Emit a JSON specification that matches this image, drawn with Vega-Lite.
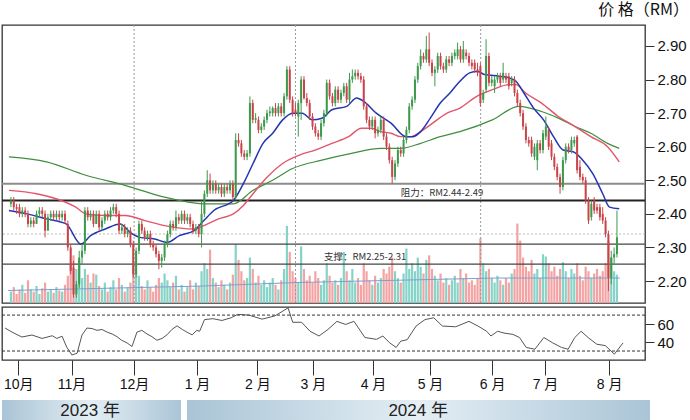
{
"$schema":"https://vega.github.io/schema/vega-lite/v6.json",
"background":"white",
"padding":{"left":0,"top":0,"right":1,"bottom":0},
"autosize":{"type":"pad"},
"config":{"view":{"stroke":"#333","strokeWidth":1.3},"axis":{"grid":false,"domain":false,"labelFont":"Liberation Sans, Noto Sans CJK SC","labelColor":"#111","tickColor":"#333","title":null},"title":{"font":"Noto Sans CJK SC","fontWeight":"normal","color":"#111"}},
"datasets":{
"bars":[
{"i":0,"o":2.43,"h":2.45,"l":2.42,"c":2.44,"v":1.0},
{"i":1,"o":2.44,"h":2.45,"l":2.41,"c":2.42,"v":1.4},
{"i":2,"o":2.42,"h":2.43,"l":2.40,"c":2.415,"v":0.8},
{"i":3,"o":2.42,"h":2.43,"l":2.39,"c":2.40,"v":1.2},
{"i":4,"o":2.40,"h":2.42,"l":2.39,"c":2.41,"v":1.6},
{"i":5,"o":2.41,"h":2.42,"l":2.39,"c":2.40,"v":0.9},
{"i":6,"o":2.40,"h":2.41,"l":2.36,"c":2.37,"v":2.0},
{"i":7,"o":2.37,"h":2.39,"l":2.36,"c":2.38,"v":1.2},
{"i":8,"o":2.38,"h":2.39,"l":2.36,"c":2.37,"v":1.0},
{"i":9,"o":2.37,"h":2.41,"l":2.37,"c":2.40,"v":1.5},
{"i":10,"o":2.40,"h":2.42,"l":2.39,"c":2.41,"v":0.8},
{"i":11,"o":2.41,"h":2.42,"l":2.39,"c":2.40,"v":1.3},
{"i":12,"o":2.40,"h":2.41,"l":2.33,"c":2.35,"v":1.8},
{"i":13,"o":2.35,"h":2.40,"l":2.35,"c":2.39,"v":1.0},
{"i":14,"o":2.39,"h":2.41,"l":2.38,"c":2.40,"v":1.2},
{"i":15,"o":2.40,"h":2.41,"l":2.38,"c":2.39,"v":0.9},
{"i":16,"o":2.39,"h":2.41,"l":2.38,"c":2.40,"v":1.4},
{"i":17,"o":2.40,"h":2.41,"l":2.38,"c":2.39,"v":1.1},
{"i":18,"o":2.39,"h":2.41,"l":2.38,"c":2.40,"v":1.0},
{"i":19,"o":2.40,"h":2.41,"l":2.37,"c":2.38,"v":1.6},
{"i":20,"o":2.37,"h":2.38,"l":2.29,"c":2.30,"v":2.4},
{"i":21,"o":2.30,"h":2.31,"l":2.22,"c":2.23,"v":3.5},
{"i":22,"o":2.24,"h":2.26,"l":2.15,"c":2.16,"v":4.2},
{"i":23,"o":2.16,"h":2.20,"l":2.15,"c":2.19,"v":3.0},
{"i":24,"o":2.19,"h":2.29,"l":2.18,"c":2.27,"v":3.8},
{"i":25,"o":2.27,"h":2.31,"l":2.25,"c":2.29,"v":2.2},
{"i":26,"o":2.29,"h":2.42,"l":2.28,"c":2.41,"v":3.0},
{"i":27,"o":2.41,"h":2.42,"l":2.38,"c":2.39,"v":2.5},
{"i":28,"o":2.39,"h":2.41,"l":2.38,"c":2.40,"v":1.8},
{"i":29,"o":2.40,"h":2.41,"l":2.36,"c":2.37,"v":2.6},
{"i":30,"o":2.37,"h":2.41,"l":2.37,"c":2.40,"v":2.5},
{"i":31,"o":2.40,"h":2.41,"l":2.35,"c":2.36,"v":1.5},
{"i":32,"o":2.36,"h":2.39,"l":2.35,"c":2.38,"v":1.2},
{"i":33,"o":2.38,"h":2.41,"l":2.37,"c":2.40,"v":1.8},
{"i":34,"o":2.40,"h":2.41,"l":2.38,"c":2.39,"v":1.0},
{"i":35,"o":2.39,"h":2.42,"l":2.38,"c":2.41,"v":1.4},
{"i":36,"o":2.41,"h":2.43,"l":2.40,"c":2.42,"v":2.0},
{"i":37,"o":2.42,"h":2.43,"l":2.39,"c":2.40,"v":1.2},
{"i":38,"o":2.40,"h":2.41,"l":2.34,"c":2.35,"v":2.2},
{"i":39,"o":2.35,"h":2.37,"l":2.34,"c":2.36,"v":1.6},
{"i":40,"o":2.36,"h":2.37,"l":2.33,"c":2.34,"v":1.0},
{"i":41,"o":2.34,"h":2.36,"l":2.33,"c":2.35,"v":1.4},
{"i":42,"o":2.35,"h":2.36,"l":2.30,"c":2.31,"v":1.8},
{"i":43,"o":2.31,"h":2.32,"l":2.21,"c":2.22,"v":3.3},
{"i":44,"o":2.22,"h":2.30,"l":2.21,"c":2.29,"v":2.8},
{"i":45,"o":2.29,"h":2.38,"l":2.28,"c":2.37,"v":2.4},
{"i":46,"o":2.37,"h":2.38,"l":2.34,"c":2.35,"v":1.5},
{"i":47,"o":2.35,"h":2.36,"l":2.32,"c":2.33,"v":1.2},
{"i":48,"o":2.33,"h":2.35,"l":2.32,"c":2.34,"v":2.0},
{"i":49,"o":2.34,"h":2.35,"l":2.30,"c":2.31,"v":1.4},
{"i":50,"o":2.31,"h":2.32,"l":2.29,"c":2.30,"v":1.0},
{"i":51,"o":2.30,"h":2.31,"l":2.27,"c":2.28,"v":1.6},
{"i":52,"o":2.28,"h":2.29,"l":2.235,"c":2.26,"v":2.2},
{"i":53,"o":2.26,"h":2.28,"l":2.24,"c":2.27,"v":1.8},
{"i":54,"o":2.27,"h":2.32,"l":2.26,"c":2.31,"v":2.6},
{"i":55,"o":2.31,"h":2.35,"l":2.30,"c":2.34,"v":2.0},
{"i":56,"o":2.34,"h":2.38,"l":2.33,"c":2.37,"v":1.4},
{"i":57,"o":2.37,"h":2.38,"l":2.35,"c":2.36,"v":1.8},
{"i":58,"o":2.36,"h":2.41,"l":2.35,"c":2.39,"v":2.4},
{"i":59,"o":2.39,"h":2.40,"l":2.37,"c":2.38,"v":1.2},
{"i":60,"o":2.38,"h":2.41,"l":2.37,"c":2.40,"v":1.6},
{"i":61,"o":2.40,"h":2.41,"l":2.37,"c":2.38,"v":1.0},
{"i":62,"o":2.38,"h":2.40,"l":2.37,"c":2.39,"v":1.4},
{"i":63,"o":2.39,"h":2.40,"l":2.36,"c":2.37,"v":2.0},
{"i":64,"o":2.37,"h":2.38,"l":2.34,"c":2.35,"v":1.2},
{"i":65,"o":2.35,"h":2.37,"l":2.34,"c":2.36,"v":1.8},
{"i":66,"o":2.36,"h":2.37,"l":2.33,"c":2.34,"v":1.5},
{"i":67,"o":2.34,"h":2.44,"l":2.30,"c":2.40,"v":2.8},
{"i":68,"o":2.40,"h":2.47,"l":2.39,"c":2.46,"v":3.5},
{"i":69,"o":2.46,"h":2.53,"l":2.45,"c":2.50,"v":3.0},
{"i":70,"o":2.50,"h":2.52,"l":2.46,"c":2.47,"v":4.7},
{"i":71,"o":2.47,"h":2.50,"l":2.46,"c":2.49,"v":2.2},
{"i":72,"o":2.49,"h":2.50,"l":2.46,"c":2.47,"v":1.8},
{"i":73,"o":2.47,"h":2.49,"l":2.46,"c":2.48,"v":1.4},
{"i":74,"o":2.48,"h":2.49,"l":2.45,"c":2.46,"v":2.0},
{"i":75,"o":2.46,"h":2.49,"l":2.45,"c":2.48,"v":1.6},
{"i":76,"o":2.48,"h":2.49,"l":2.46,"c":2.47,"v":1.2},
{"i":77,"o":2.47,"h":2.50,"l":2.46,"c":2.49,"v":1.8},
{"i":78,"o":2.49,"h":2.50,"l":2.44,"c":2.45,"v":2.5},
{"i":79,"o":2.45,"h":2.64,"l":2.44,"c":2.62,"v":5.2},
{"i":80,"o":2.62,"h":2.64,"l":2.60,"c":2.61,"v":3.8},
{"i":81,"o":2.61,"h":2.62,"l":2.57,"c":2.58,"v":2.8},
{"i":82,"o":2.58,"h":2.59,"l":2.56,"c":2.57,"v":2.0},
{"i":83,"o":2.57,"h":2.59,"l":2.56,"c":2.58,"v":2.2},
{"i":84,"o":2.58,"h":2.75,"l":2.57,"c":2.73,"v":4.0},
{"i":85,"o":2.73,"h":2.74,"l":2.67,"c":2.68,"v":3.0},
{"i":86,"o":2.68,"h":2.70,"l":2.67,"c":2.685,"v":1.8},
{"i":87,"o":2.68,"h":2.69,"l":2.64,"c":2.65,"v":2.4},
{"i":88,"o":2.65,"h":2.67,"l":2.64,"c":2.66,"v":1.6},
{"i":89,"o":2.66,"h":2.69,"l":2.65,"c":2.68,"v":2.0},
{"i":90,"o":2.68,"h":2.71,"l":2.67,"c":2.70,"v":1.4},
{"i":91,"o":2.70,"h":2.72,"l":2.69,"c":2.705,"v":1.8},
{"i":92,"o":2.70,"h":2.72,"l":2.69,"c":2.715,"v":2.2},
{"i":93,"o":2.715,"h":2.73,"l":2.69,"c":2.70,"v":1.6},
{"i":94,"o":2.70,"h":2.73,"l":2.69,"c":2.72,"v":1.2},
{"i":95,"o":2.72,"h":2.73,"l":2.69,"c":2.70,"v":2.0},
{"i":96,"o":2.70,"h":2.76,"l":2.69,"c":2.75,"v":3.0},
{"i":97,"o":2.75,"h":2.84,"l":2.74,"c":2.83,"v":6.8},
{"i":98,"o":2.83,"h":2.84,"l":2.73,"c":2.74,"v":4.5},
{"i":99,"o":2.74,"h":2.75,"l":2.69,"c":2.70,"v":2.8},
{"i":100,"o":2.71,"h":2.73,"l":2.69,"c":2.70,"v":2.2},
{"i":101,"o":2.69,"h":2.74,"l":2.63,"c":2.73,"v":1.8},
{"i":102,"o":2.73,"h":2.81,"l":2.68,"c":2.80,"v":5.0},
{"i":103,"o":2.80,"h":2.81,"l":2.74,"c":2.745,"v":3.0},
{"i":104,"o":2.745,"h":2.76,"l":2.72,"c":2.73,"v":2.0},
{"i":105,"o":2.73,"h":2.74,"l":2.68,"c":2.69,"v":2.4},
{"i":106,"o":2.69,"h":2.70,"l":2.65,"c":2.66,"v":1.8},
{"i":107,"o":2.66,"h":2.67,"l":2.63,"c":2.64,"v":2.8},
{"i":108,"o":2.64,"h":2.65,"l":2.62,"c":2.63,"v":2.2},
{"i":109,"o":2.63,"h":2.68,"l":2.62,"c":2.67,"v":1.6},
{"i":110,"o":2.67,"h":2.71,"l":2.66,"c":2.70,"v":2.0},
{"i":111,"o":2.70,"h":2.80,"l":2.69,"c":2.79,"v":3.5},
{"i":112,"o":2.79,"h":2.80,"l":2.74,"c":2.75,"v":2.4},
{"i":113,"o":2.75,"h":2.76,"l":2.72,"c":2.73,"v":1.8},
{"i":114,"o":2.73,"h":2.78,"l":2.72,"c":2.77,"v":2.0},
{"i":115,"o":2.77,"h":2.78,"l":2.73,"c":2.74,"v":1.6},
{"i":116,"o":2.74,"h":2.77,"l":2.73,"c":2.76,"v":2.2},
{"i":117,"o":2.76,"h":2.79,"l":2.75,"c":2.78,"v":4.5},
{"i":118,"o":2.78,"h":2.79,"l":2.73,"c":2.74,"v":2.8},
{"i":119,"o":2.74,"h":2.82,"l":2.73,"c":2.80,"v":2.0},
{"i":120,"o":2.80,"h":2.83,"l":2.79,"c":2.81,"v":3.0},
{"i":121,"o":2.81,"h":2.83,"l":2.80,"c":2.82,"v":1.8},
{"i":122,"o":2.82,"h":2.83,"l":2.80,"c":2.81,"v":2.2},
{"i":123,"o":2.81,"h":2.82,"l":2.79,"c":2.80,"v":1.6},
{"i":124,"o":2.80,"h":2.81,"l":2.71,"c":2.72,"v":3.5},
{"i":125,"o":2.72,"h":2.73,"l":2.67,"c":2.68,"v":2.8},
{"i":126,"o":2.68,"h":2.69,"l":2.65,"c":2.66,"v":2.0},
{"i":127,"o":2.66,"h":2.69,"l":2.65,"c":2.68,"v":1.6},
{"i":128,"o":2.68,"h":2.69,"l":2.625,"c":2.64,"v":2.4},
{"i":129,"o":2.64,"h":2.66,"l":2.63,"c":2.65,"v":1.8},
{"i":130,"o":2.65,"h":2.69,"l":2.64,"c":2.68,"v":2.2},
{"i":131,"o":2.68,"h":2.69,"l":2.62,"c":2.63,"v":3.0},
{"i":132,"o":2.63,"h":2.64,"l":2.59,"c":2.60,"v":2.6},
{"i":133,"o":2.60,"h":2.61,"l":2.55,"c":2.56,"v":3.2},
{"i":134,"o":2.56,"h":2.57,"l":2.49,"c":2.51,"v":4.0},
{"i":135,"o":2.51,"h":2.56,"l":2.50,"c":2.55,"v":2.8},
{"i":136,"o":2.55,"h":2.60,"l":2.54,"c":2.59,"v":2.2},
{"i":137,"o":2.59,"h":2.60,"l":2.57,"c":2.58,"v":1.8},
{"i":138,"o":2.58,"h":2.63,"l":2.57,"c":2.62,"v":2.6},
{"i":139,"o":2.62,"h":2.66,"l":2.61,"c":2.65,"v":4.8},
{"i":140,"o":2.65,"h":2.73,"l":2.64,"c":2.72,"v":3.0},
{"i":141,"o":2.72,"h":2.75,"l":2.71,"c":2.74,"v":3.5},
{"i":142,"o":2.74,"h":2.81,"l":2.73,"c":2.80,"v":2.8},
{"i":143,"o":2.80,"h":2.85,"l":2.79,"c":2.84,"v":4.0},
{"i":144,"o":2.84,"h":2.89,"l":2.83,"c":2.87,"v":3.2},
{"i":145,"o":2.87,"h":2.88,"l":2.85,"c":2.86,"v":2.6},
{"i":146,"o":2.86,"h":2.93,"l":2.85,"c":2.89,"v":3.8},
{"i":147,"o":2.89,"h":2.94,"l":2.84,"c":2.85,"v":4.2},
{"i":148,"o":2.85,"h":2.86,"l":2.81,"c":2.82,"v":3.0},
{"i":149,"o":2.82,"h":2.84,"l":2.78,"c":2.83,"v":2.4},
{"i":150,"o":2.83,"h":2.88,"l":2.82,"c":2.87,"v":2.0},
{"i":151,"o":2.87,"h":2.88,"l":2.83,"c":2.84,"v":2.6},
{"i":152,"o":2.84,"h":2.85,"l":2.82,"c":2.83,"v":1.8},
{"i":153,"o":2.83,"h":2.87,"l":2.82,"c":2.86,"v":2.2},
{"i":154,"o":2.86,"h":2.87,"l":2.84,"c":2.85,"v":1.6},
{"i":155,"o":2.85,"h":2.88,"l":2.84,"c":2.87,"v":2.0},
{"i":156,"o":2.87,"h":2.89,"l":2.86,"c":2.88,"v":2.4},
{"i":157,"o":2.87,"h":2.91,"l":2.86,"c":2.89,"v":1.8},
{"i":158,"o":2.89,"h":2.90,"l":2.85,"c":2.86,"v":3.0},
{"i":159,"o":2.86,"h":2.915,"l":2.85,"c":2.89,"v":2.2},
{"i":160,"o":2.88,"h":2.89,"l":2.86,"c":2.87,"v":2.6},
{"i":161,"o":2.87,"h":2.88,"l":2.84,"c":2.85,"v":1.8},
{"i":162,"o":2.85,"h":2.86,"l":2.83,"c":2.84,"v":2.0},
{"i":163,"o":2.85,"h":2.86,"l":2.82,"c":2.83,"v":1.6},
{"i":164,"o":2.83,"h":2.85,"l":2.81,"c":2.82,"v":2.2},
{"i":165,"o":2.84,"h":2.85,"l":2.72,"c":2.73,"v":5.7},
{"i":166,"o":2.74,"h":2.77,"l":2.73,"c":2.76,"v":3.5},
{"i":167,"o":2.77,"h":2.92,"l":2.76,"c":2.87,"v":2.8},
{"i":168,"o":2.87,"h":2.88,"l":2.78,"c":2.79,"v":3.0},
{"i":169,"o":2.79,"h":2.81,"l":2.78,"c":2.80,"v":2.2},
{"i":170,"o":2.78,"h":2.81,"l":2.76,"c":2.80,"v":1.8},
{"i":171,"o":2.80,"h":2.82,"l":2.79,"c":2.81,"v":2.4},
{"i":172,"o":2.81,"h":2.82,"l":2.78,"c":2.79,"v":2.0},
{"i":173,"o":2.80,"h":2.85,"l":2.79,"c":2.82,"v":1.6},
{"i":174,"o":2.81,"h":2.82,"l":2.79,"c":2.80,"v":2.2},
{"i":175,"o":2.81,"h":2.82,"l":2.77,"c":2.78,"v":1.8},
{"i":176,"o":2.79,"h":2.81,"l":2.78,"c":2.80,"v":2.6},
{"i":177,"o":2.80,"h":2.81,"l":2.75,"c":2.76,"v":3.0},
{"i":178,"o":2.76,"h":2.77,"l":2.72,"c":2.73,"v":7.0},
{"i":179,"o":2.73,"h":2.74,"l":2.69,"c":2.70,"v":5.5},
{"i":180,"o":2.70,"h":2.71,"l":2.65,"c":2.66,"v":4.0},
{"i":181,"o":2.66,"h":2.67,"l":2.61,"c":2.62,"v":3.2},
{"i":182,"o":2.62,"h":2.63,"l":2.60,"c":2.61,"v":2.8},
{"i":183,"o":2.62,"h":2.63,"l":2.57,"c":2.58,"v":3.8},
{"i":184,"o":2.57,"h":2.61,"l":2.56,"c":2.60,"v":2.6},
{"i":185,"o":2.56,"h":2.62,"l":2.53,"c":2.61,"v":3.0},
{"i":186,"o":2.61,"h":2.62,"l":2.58,"c":2.59,"v":2.2},
{"i":187,"o":2.59,"h":2.65,"l":2.58,"c":2.64,"v":4.3},
{"i":188,"o":2.63,"h":2.69,"l":2.62,"c":2.66,"v":4.1},
{"i":189,"o":2.65,"h":2.66,"l":2.59,"c":2.60,"v":3.5},
{"i":190,"o":2.61,"h":2.62,"l":2.56,"c":2.57,"v":2.8},
{"i":191,"o":2.57,"h":2.58,"l":2.53,"c":2.54,"v":3.2},
{"i":192,"o":2.54,"h":2.55,"l":2.50,"c":2.51,"v":2.4},
{"i":193,"o":2.51,"h":2.52,"l":2.46,"c":2.48,"v":3.0},
{"i":194,"o":2.48,"h":2.57,"l":2.47,"c":2.56,"v":3.6},
{"i":195,"o":2.56,"h":2.61,"l":2.55,"c":2.60,"v":2.8},
{"i":196,"o":2.60,"h":2.61,"l":2.58,"c":2.59,"v":2.2},
{"i":197,"o":2.59,"h":2.63,"l":2.58,"c":2.62,"v":3.0},
{"i":198,"o":2.61,"h":2.63,"l":2.60,"c":2.62,"v":2.6},
{"i":199,"o":2.63,"h":2.635,"l":2.52,"c":2.53,"v":3.5},
{"i":200,"o":2.54,"h":2.56,"l":2.50,"c":2.51,"v":2.4},
{"i":201,"o":2.51,"h":2.52,"l":2.49,"c":2.50,"v":2.0},
{"i":202,"o":2.50,"h":2.51,"l":2.43,"c":2.44,"v":3.2},
{"i":203,"o":2.44,"h":2.45,"l":2.37,"c":2.38,"v":2.8},
{"i":204,"o":2.39,"h":2.44,"l":2.38,"c":2.43,"v":2.2},
{"i":205,"o":2.44,"h":2.45,"l":2.40,"c":2.41,"v":2.6},
{"i":206,"o":2.42,"h":2.43,"l":2.40,"c":2.41,"v":3.0},
{"i":207,"o":2.42,"h":2.43,"l":2.38,"c":2.39,"v":2.4},
{"i":208,"o":2.40,"h":2.42,"l":2.37,"c":2.38,"v":2.8},
{"i":209,"o":2.38,"h":2.39,"l":2.33,"c":2.34,"v":3.5},
{"i":210,"o":2.34,"h":2.35,"l":2.17,"c":2.21,"v":5.5},
{"i":211,"o":2.21,"h":2.29,"l":2.19,"c":2.27,"v":4.0},
{"i":212,"o":2.27,"h":2.30,"l":2.25,"c":2.28,"v":2.8},
{"i":213,"o":2.28,"h":2.41,"l":2.27,"c":2.33,"v":2.5}
],
"ma_b":[
{"i":-0.7,"p":2.41},{"i":5.5,"p":2.40},{"i":12.5,"p":2.385},{"i":19.4,"p":2.37},{"i":24.6,"p":2.31},{"i":28,"p":2.335},{"i":33.2,"p":2.355},{"i":38.4,"p":2.37},{"i":41.9,"p":2.345},{"i":45.3,"p":2.33},{"i":50.5,"p":2.325},{"i":55,"p":2.315},{"i":59.2,"p":2.335},{"i":64.4,"p":2.35},{"i":67.8,"p":2.38},{"i":71.3,"p":2.41},{"i":78.2,"p":2.44},{"i":81.7,"p":2.49},{"i":85.1,"p":2.55},{"i":88.6,"p":2.61},{"i":92,"p":2.64},{"i":95.5,"p":2.68},{"i":99,"p":2.70},{"i":102.4,"p":2.70},{"i":105.9,"p":2.68},{"i":109.3,"p":2.685},{"i":112.8,"p":2.71},{"i":118,"p":2.72},{"i":121.5,"p":2.745},{"i":124,"p":2.735},{"i":128.4,"p":2.70},{"i":133.6,"p":2.67},{"i":138.8,"p":2.63},{"i":141.2,"p":2.63},{"i":144,"p":2.645},{"i":147.4,"p":2.685},{"i":150.9,"p":2.73},{"i":154.3,"p":2.76},{"i":157.8,"p":2.795},{"i":161.2,"p":2.82},{"i":164,"p":2.825},{"i":166.4,"p":2.815},{"i":171.6,"p":2.81},{"i":175.1,"p":2.805},{"i":177.5,"p":2.795},{"i":180.3,"p":2.76},{"i":183.7,"p":2.715},{"i":187.2,"p":2.68},{"i":190.7,"p":2.63},{"i":194.1,"p":2.59},{"i":197.6,"p":2.585},{"i":201,"p":2.56},{"i":204.5,"p":2.52},{"i":208,"p":2.46},{"i":210.4,"p":2.42},{"i":213.8,"p":2.415}
],
"ma_r":[
{"i":-0.7,"p":2.47},{"i":9,"p":2.46},{"i":15.9,"p":2.445},{"i":22.8,"p":2.42},{"i":26.3,"p":2.40},{"i":33.2,"p":2.395},{"i":40.1,"p":2.395},{"i":47.1,"p":2.38},{"i":54,"p":2.365},{"i":64.4,"p":2.355},{"i":67.8,"p":2.365},{"i":73,"p":2.385},{"i":78.2,"p":2.40},{"i":81.7,"p":2.425},{"i":85.1,"p":2.46},{"i":89.6,"p":2.505},{"i":95.5,"p":2.55},{"i":101.4,"p":2.575},{"i":106.9,"p":2.59},{"i":112.8,"p":2.61},{"i":118.7,"p":2.63},{"i":123.2,"p":2.655},{"i":126.6,"p":2.655},{"i":130.1,"p":2.645},{"i":133.6,"p":2.64},{"i":137,"p":2.63},{"i":140.5,"p":2.63},{"i":144,"p":2.645},{"i":147.4,"p":2.665},{"i":153.3,"p":2.70},{"i":157.8,"p":2.715},{"i":163.7,"p":2.75},{"i":169.2,"p":2.77},{"i":175.1,"p":2.785},{"i":177.5,"p":2.785},{"i":180.9,"p":2.76},{"i":186.5,"p":2.73},{"i":192.4,"p":2.69},{"i":198.3,"p":2.66},{"i":203.8,"p":2.63},{"i":209.7,"p":2.60},{"i":213.8,"p":2.555}
],
"ma_g":[
{"i":-0.7,"p":2.57},{"i":12.5,"p":2.555},{"i":26.3,"p":2.515},{"i":40.1,"p":2.485},{"i":54,"p":2.45},{"i":67.8,"p":2.43},{"i":78.2,"p":2.43},{"i":85.1,"p":2.47},{"i":92,"p":2.50},{"i":99,"p":2.535},{"i":109.3,"p":2.56},{"i":119.7,"p":2.58},{"i":130.1,"p":2.595},{"i":137,"p":2.595},{"i":144,"p":2.61},{"i":150.9,"p":2.63},{"i":157.8,"p":2.645},{"i":169.2,"p":2.68},{"i":178.5,"p":2.72},{"i":186.5,"p":2.705},{"i":192.4,"p":2.685},{"i":198.3,"p":2.66},{"i":203.8,"p":2.64},{"i":209.7,"p":2.61},{"i":213.8,"p":2.595}
],
"volma":[
{"i":-1,"v":1.1},{"i":34,"v":1.3},{"i":68,"v":1.5},{"i":100,"v":1.8},{"i":135,"v":2.0},{"i":170,"v":2.2},{"i":214,"v":2.2}
],
"rsi":[
{"i":-0.3,"r":55.6},{"i":2.1,"r":51},{"i":5.5,"r":45.6},{"i":9,"r":47.8},{"i":12.5,"r":44},{"i":16,"r":47},{"i":17.6,"r":44},{"i":19.4,"r":46.5},{"i":21,"r":34.4},{"i":22.8,"r":25.6},{"i":24.6,"r":27.5},{"i":26.3,"r":47.8},{"i":28,"r":55.6},{"i":29.8,"r":55},{"i":31.5,"r":53},{"i":33.2,"r":54},{"i":35,"r":51},{"i":36.7,"r":49},{"i":38.4,"r":46},{"i":40,"r":42},{"i":41.9,"r":39},{"i":43.6,"r":35},{"i":45.3,"r":51},{"i":47,"r":53},{"i":48.8,"r":49},{"i":50.5,"r":46},{"i":52.2,"r":42},{"i":54,"r":44},{"i":55.7,"r":48},{"i":57.4,"r":54},{"i":59.2,"r":58},{"i":61,"r":54},{"i":62.6,"r":51},{"i":64.4,"r":48},{"i":66,"r":53},{"i":67,"r":52},{"i":68.7,"r":65},{"i":71.6,"r":66},{"i":74.7,"r":64},{"i":77.9,"r":67},{"i":80.2,"r":70.8},{"i":84,"r":70},{"i":88.6,"r":65.5},{"i":93,"r":69},{"i":97.6,"r":78},{"i":99.2,"r":62},{"i":102.3,"r":62},{"i":105.2,"r":52},{"i":108.3,"r":46.7},{"i":111.4,"r":54},{"i":114.5,"r":63},{"i":117.5,"r":59.6},{"i":120.4,"r":63},{"i":124.2,"r":45},{"i":128.2,"r":43},{"i":130.4,"r":46.7},{"i":132.8,"r":39},{"i":135,"r":34},{"i":136.6,"r":41},{"i":138.8,"r":42.6},{"i":141.9,"r":57.8},{"i":145,"r":65},{"i":148,"r":67},{"i":151,"r":57.8},{"i":155.6,"r":57},{"i":160.2,"r":63},{"i":163.3,"r":57.8},{"i":166.3,"r":52},{"i":167.8,"r":46.7},{"i":170.1,"r":52},{"i":172.3,"r":50},{"i":175.4,"r":48.5},{"i":177.7,"r":45},{"i":180,"r":34},{"i":183,"r":32},{"i":186.1,"r":45},{"i":189.2,"r":39},{"i":192.2,"r":34},{"i":194.5,"r":32},{"i":196.8,"r":45},{"i":199,"r":52},{"i":201.4,"r":45},{"i":204.4,"r":37.6},{"i":207.4,"r":36},{"i":210.5,"r":26.5},{"i":213.5,"r":39}
],
"vlines":[{"i":43.3},{"i":100},{"i":165.1}],
"notes":[{"i":137,"p":2.4625,"t":"阻力：RM2.44-2.49"},{"i":110,"p":2.272,"t":"支撑：RM2.25-2.31"}],
"years":[{"s":-1.38,"e":60.55,"m":29.1,"t":"2023 年"},{"s":62.6,"e":222.8,"m":142.6,"t":"2024 年"}]
},
"spacing":8,
"vconcat":[
{"spacing":0,"vconcat":[
{
"width":643,"height":278,
"title":{"text":"价 格（RM）","anchor":"end","frame":"bounds","align":"left","dx":-88,"offset":7,"fontSize":16},
"layer":[
{"layer":[
{"data":{"name":"bars"},"mark":{"type":"bar","size":2.2},"encoding":{"x":{"field":"i","type":"quantitative","scale":{"domain":[-1.38,221.1],"nice":false,"zero":false},"axis":null},"y":{"field":"v","type":"quantitative","scale":{"domain":[0,24.5],"nice":false},"axis":null},"color":{"condition":{"test":"datum.c < datum.o","value":"#f3a3a3"},"value":"#86d3c7"}}},
{"data":{"name":"volma"},"mark":{"type":"line","color":"#7f9fcf","strokeWidth":1},"encoding":{"x":{"field":"i","type":"quantitative","scale":{"domain":[-1.38,221.1],"nice":false,"zero":false},"axis":null},"y":{"field":"v","type":"quantitative","scale":{"domain":[0,24.5],"nice":false},"axis":null}}}
]},
{"layer":[
{"data":{"name":"vlines"},"mark":{"type":"rule","color":"#999","strokeDash":[2,2],"strokeWidth":1},"encoding":{"x":{"field":"i","type":"quantitative","scale":{"domain":[-1.38,221.1],"nice":false,"zero":false},"axis":null}}},
{"data":{"values":[{"p":2.34}]},"mark":{"type":"rule","color":"#bbb","strokeDash":[2,2],"strokeWidth":1},"encoding":{"y":{"field":"p","type":"quantitative","scale":{"domain":[2.1345,2.9625],"nice":false,"zero":false},"axis":{"orient":"right","values":[2.2,2.3,2.4,2.5,2.6,2.7,2.8,2.9],"format":".2f","tickSize":9,"labelPadding":3,"labelFontSize":15}}}},
{"data":{"values":[{"p":2.49}]},"mark":{"type":"rule","color":"#8c8c8c","strokeWidth":2},"encoding":{"y":{"field":"p","type":"quantitative","scale":{"domain":[2.1345,2.9625],"nice":false,"zero":false},"axis":{"orient":"right","values":[2.2,2.3,2.4,2.5,2.6,2.7,2.8,2.9],"format":".2f","tickSize":9,"labelPadding":3,"labelFontSize":15}}}},
{"data":{"values":[{"p":2.44}]},"mark":{"type":"rule","color":"#222","strokeWidth":2},"encoding":{"y":{"field":"p","type":"quantitative","scale":{"domain":[2.1345,2.9625],"nice":false,"zero":false},"axis":{"orient":"right","values":[2.2,2.3,2.4,2.5,2.6,2.7,2.8,2.9],"format":".2f","tickSize":9,"labelPadding":3,"labelFontSize":15}}}},
{"data":{"values":[{"p":2.31},{"p":2.25}]},"mark":{"type":"rule","color":"#444","strokeWidth":1.2},"encoding":{"y":{"field":"p","type":"quantitative","scale":{"domain":[2.1345,2.9625],"nice":false,"zero":false},"axis":{"orient":"right","values":[2.2,2.3,2.4,2.5,2.6,2.7,2.8,2.9],"format":".2f","tickSize":9,"labelPadding":3,"labelFontSize":15}}}},
{"data":{"name":"ma_g"},"mark":{"type":"line","color":"#3f8f3f","strokeWidth":1.2,"interpolate":"monotone"},"encoding":{"x":{"field":"i","type":"quantitative","scale":{"domain":[-1.38,221.1],"nice":false,"zero":false},"axis":null},"y":{"field":"p","type":"quantitative","scale":{"domain":[2.1345,2.9625],"nice":false,"zero":false},"axis":{"orient":"right","values":[2.2,2.3,2.4,2.5,2.6,2.7,2.8,2.9],"format":".2f","tickSize":9,"labelPadding":3,"labelFontSize":15}}}},
{"data":{"name":"ma_r"},"mark":{"type":"line","color":"#e2566b","strokeWidth":1.4,"interpolate":"monotone"},"encoding":{"x":{"field":"i","type":"quantitative","scale":{"domain":[-1.38,221.1],"nice":false,"zero":false},"axis":null},"y":{"field":"p","type":"quantitative","scale":{"domain":[2.1345,2.9625],"nice":false,"zero":false},"axis":{"orient":"right","values":[2.2,2.3,2.4,2.5,2.6,2.7,2.8,2.9],"format":".2f","tickSize":9,"labelPadding":3,"labelFontSize":15}}}},
{"data":{"name":"ma_b"},"mark":{"type":"line","color":"#2335b0","strokeWidth":1.5,"interpolate":"monotone"},"encoding":{"x":{"field":"i","type":"quantitative","scale":{"domain":[-1.38,221.1],"nice":false,"zero":false},"axis":null},"y":{"field":"p","type":"quantitative","scale":{"domain":[2.1345,2.9625],"nice":false,"zero":false},"axis":{"orient":"right","values":[2.2,2.3,2.4,2.5,2.6,2.7,2.8,2.9],"format":".2f","tickSize":9,"labelPadding":3,"labelFontSize":15}}}},
{"data":{"name":"bars"},"mark":{"type":"rule","strokeWidth":1},"encoding":{"x":{"field":"i","type":"quantitative","scale":{"domain":[-1.38,221.1],"nice":false,"zero":false},"axis":null},"y":{"field":"l","type":"quantitative","scale":{"domain":[2.1345,2.9625],"nice":false,"zero":false},"axis":{"orient":"right","values":[2.2,2.3,2.4,2.5,2.6,2.7,2.8,2.9],"format":".2f","tickSize":9,"labelPadding":3,"labelFontSize":15}},"y2":{"field":"h"},"color":{"condition":{"test":"datum.c < datum.o","value":"#c9444a"},"value":"#3c9a4c"}}},
{"data":{"name":"bars"},"mark":{"type":"bar","size":2},"encoding":{"x":{"field":"i","type":"quantitative","scale":{"domain":[-1.38,221.1],"nice":false,"zero":false},"axis":null},"y":{"field":"o","type":"quantitative","scale":{"domain":[2.1345,2.9625],"nice":false,"zero":false},"axis":{"orient":"right","values":[2.2,2.3,2.4,2.5,2.6,2.7,2.8,2.9],"format":".2f","tickSize":9,"labelPadding":3,"labelFontSize":15}},"y2":{"field":"c"},"color":{"condition":{"test":"datum.c < datum.o","value":"#c9444a"},"value":"#3c9a4c"}}},
{"data":{"name":"notes"},"mark":{"type":"text","align":"left","baseline":"middle","fontSize":9.5,"font":"Noto Sans CJK SC","color":"#333"},"encoding":{"x":{"field":"i","type":"quantitative","scale":{"domain":[-1.38,221.1],"nice":false,"zero":false},"axis":null},"y":{"field":"p","type":"quantitative","scale":{"domain":[2.1345,2.9625],"nice":false,"zero":false},"axis":{"orient":"right","values":[2.2,2.3,2.4,2.5,2.6,2.7,2.8,2.9],"format":".2f","tickSize":9,"labelPadding":3,"labelFontSize":15}},"text":{"field":"t"}}}
]}
],
"resolve":{"scale":{"y":"independent"}}
},
{
"width":643,"height":53,
"layer":[
{"data":{"values":[{"r":70},{"r":30}]},"mark":{"type":"rule","color":"#333","strokeDash":[3,2],"strokeWidth":1},"encoding":{"y":{"field":"r","type":"quantitative","scale":{"domain":[20,79],"nice":false,"zero":false},"axis":{"orient":"right","values":[40,60],"tickSize":9,"labelPadding":3,"labelFontSize":15}}}},
{"data":{"name":"rsi"},"mark":{"type":"line","color":"#555","strokeWidth":1},"encoding":{"x":{"field":"i","type":"quantitative","scale":{"domain":[-1.38,221.1],"nice":false,"zero":false},"axis":{"orient":"bottom","values":[4.26,22.7,44.3,66.1,87,106.2,127,146.7,168.2,186.5,208.7],"labelExpr":"datum.value < 10 ? '10月' : datum.value < 30 ? '11月' : datum.value < 50 ? '12月' : datum.value < 70 ? '1 月' : datum.value < 95 ? '2 月' : datum.value < 115 ? '3 月' : datum.value < 135 ? '4 月' : datum.value < 155 ? '5 月' : datum.value < 175 ? '6 月' : datum.value < 195 ? '7 月' : '8 月'","tickSize":15,"tickWidth":1,"labelPadding":2,"labelFontSize":14,"labelFlush":false,"labelOverlap":false}},"y":{"field":"r","type":"quantitative","scale":{"domain":[20,79],"nice":false,"zero":false},"axis":{"orient":"right","values":[40,60],"tickSize":9,"labelPadding":3,"labelFontSize":15}}}}
]
}
]},
{
"width":650,"height":21,
"view":{"stroke":null},
"data":{"name":"years"},
"layer":[
{"mark":{"type":"rect","color":{"x1":0,"y1":0,"x2":1,"y2":0,"gradient":"linear","stops":[{"offset":0,"color":"#a9c4d6"},{"offset":0.5,"color":"#e4eef4"},{"offset":1,"color":"#aac5d7"}]}},"encoding":{"x":{"field":"s","type":"quantitative","scale":{"domain":[-1.38,223.5],"nice":false,"zero":false},"axis":null},"x2":{"field":"e"}}},
{"mark":{"type":"text","fontSize":17,"font":"Liberation Sans, Noto Sans CJK SC","color":"#222"},"encoding":{"x":{"field":"m","type":"quantitative","scale":{"domain":[-1.38,223.5],"nice":false,"zero":false},"axis":null},"text":{"field":"t"}}}
]
}
]
}
